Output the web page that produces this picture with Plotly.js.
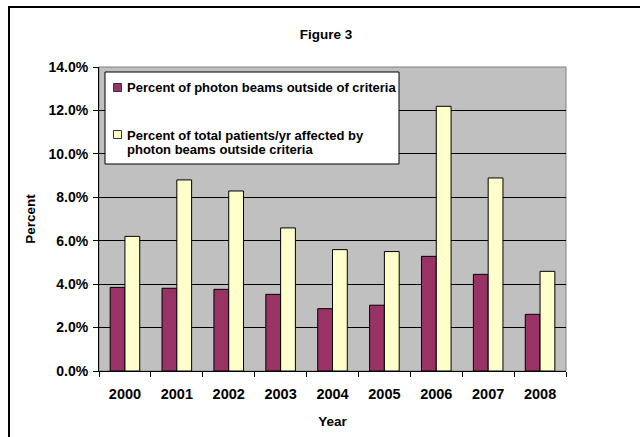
<!DOCTYPE html>
<html>
<head>
<meta charset="utf-8">
<script src="https://cdn.plot.ly/plotly-3.0.1.min.js"></script>
<style>html,body{margin:0;padding:0;background:#fff;}#chart{width:640px;height:437px;}</style>
</head>
<body>
<div id="chart"></div>
<script>
const years = ["2000","2001","2002","2003","2004","2005","2006","2007","2008"];
const beamsOutside = [3.85, 3.81, 3.76, 3.53, 2.87, 3.03, 5.28, 4.45, 2.61];
const patientsAffected = [6.2, 8.8, 8.29, 6.59, 5.59, 5.5, 12.19, 8.89, 4.59];
const seriesNames = ["Percent of photon beams outside of criteria",
                     "Percent of total patients/yr affected by",
                     "photon beams outside criteria"];
const yTicks = [0, 2, 4, 6, 8, 10, 12, 14];
const colors = ["#993366", "#FFFFCC"];

const FONT = "Arial, 'Liberation Sans', sans-serif";
const W = 640, H = 437, L = 99, R = 74, T = 67, B = 66;
const pw = W - L - R, ph = H - T - B;
const px = x => (x - L) / pw;
const py = y => (H - B - y) / ph;

const traces = [
  {type: "bar", x: years, y: beamsOutside, name: seriesNames[0],
   marker: {color: colors[0], line: {color: "#000", width: 1}}},
  {type: "bar", x: years, y: patientsAffected, name: seriesNames[1] + " " + seriesNames[2],
   marker: {color: colors[1], line: {color: "#000", width: 1}}}
];

const legFont = {family: FONT, size: 13, color: "#000", weight: "bold"};
const legendShapes = [
  {type: "rect", xref: "paper", yref: "paper", x0: px(105), x1: px(399), y0: py(164), y1: py(72),
   fillcolor: "#fff", line: {color: "#000", width: 1}, layer: "above"},
  {type: "rect", xref: "paper", yref: "paper", x0: px(113.5), x1: px(121.5), y0: py(91.5), y1: py(83.5),
   fillcolor: colors[0], line: {color: "#333", width: 1}, layer: "above"},
  {type: "rect", xref: "paper", yref: "paper", x0: px(113.5), x1: px(121.5), y0: py(138.5), y1: py(130.5),
   fillcolor: colors[1], line: {color: "#333", width: 1}, layer: "above"}
];
const legendAnn = [
  {text: "<b>" + seriesNames[0] + "</b>", y: 87.5},
  {text: "<b>" + seriesNames[1] + "</b>", y: 135},
  {text: "<b>" + seriesNames[2] + "</b>", y: 149.3}
].map(a => ({xref: "paper", yref: "paper", x: px(125), y: py(a.y), xanchor: "left", yanchor: "middle",
             text: a.text, showarrow: false, font: legFont}));

const layout = {
  width: W, height: H,
  margin: {l: L, r: R, t: T, b: B},
  paper_bgcolor: "#fff",
  plot_bgcolor: "#C0C0C0",
  font: {family: FONT, size: 13, color: "#000"},
  bargap: 0.43, bargroupgap: 0,
  barmode: "group",
  showlegend: false,
  title: {text: "<b>Figure 3</b>", font: {family: FONT, size: 13.5, color: "#000"},
          x: 326 / W, xanchor: "center", y: 1 - 34 / H, yanchor: "middle"},
  xaxis: {
    type: "category", tickson: "boundaries", ticks: "outside", ticklen: 5, tickcolor: "#000",
    showline: true, linecolor: "#000", linewidth: 1, showgrid: false,
    tickfont: {family: FONT, size: 14.5, color: "#000", weight: "bold"},
    ticklabelstandoff: 10,
    title: {text: "<b>Year</b>", font: {family: FONT, size: 13.5, color: "#000"}, standoff: 15},
    fixedrange: true
  },
  yaxis: {
    range: [0, 14], tickvals: yTicks, ticktext: yTicks.map(v => v.toFixed(1) + "%"),
    ticks: "outside", ticklen: 5, tickcolor: "#000",
    showline: true, linecolor: "#000", linewidth: 1,
    showgrid: true, gridcolor: "#000", gridwidth: 1, zeroline: false,
    tickfont: {family: FONT, size: 14, color: "#000", weight: "bold"},
    ticklabelstandoff: 2,
    title: {text: "<b>Percent</b>", font: {family: FONT, size: 13.5, color: "#000"}, standoff: 9},
    fixedrange: true
  },
  shapes: [
    {type: "rect", xref: "paper", yref: "paper", x0: 0, x1: 1, y0: 0, y1: 1,
     line: {color: "#808080", width: 1}, layer: "below"},
    {type: "rect", xref: "paper", yref: "paper", x0: px(9), x1: px(660), y0: py(460), y1: py(7),
     line: {color: "#000", width: 2}}
  ].concat(legendShapes),
  annotations: legendAnn
};

Plotly.newPlot("chart", traces, layout, {displayModeBar: false, staticPlot: true});
</script>
</body>
</html>
